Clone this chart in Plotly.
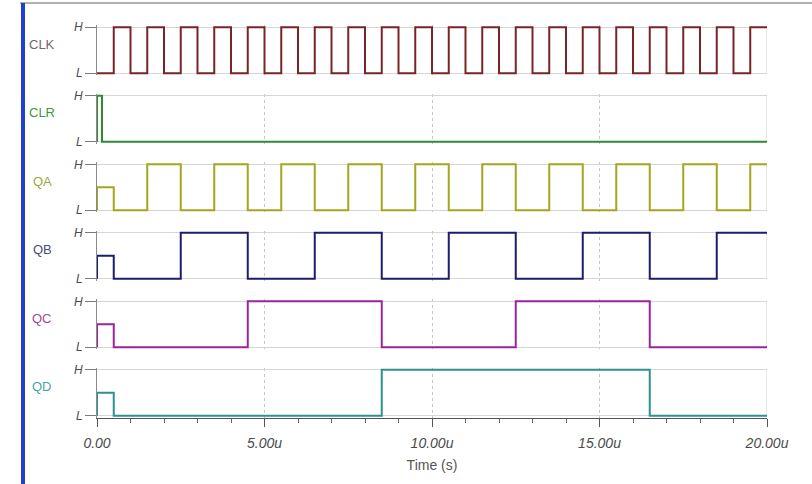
import plotly.graph_objects as go
from plotly.subplots import make_subplots

# ---------------- data ----------------
signal_names = ["CLK", "CLR", "QA", "QB", "QC", "QD"]

clk_t = [0, 0.5, 1, 1.5, 2, 2.5, 3, 3.5, 4, 4.5, 5, 5.5, 6, 6.5, 7, 7.5, 8, 8.5, 9, 9.5,
         10, 10.5, 11, 11.5, 12, 12.5, 13, 13.5, 14, 14.5, 15, 15.5, 16, 16.5, 17, 17.5,
         18, 18.5, 19, 19.5, 20]
clk_v = [0, 1, 0, 1, 0, 1, 0, 1, 0, 1, 0, 1, 0, 1, 0, 1, 0, 1, 0, 1,
         0, 1, 0, 1, 0, 1, 0, 1, 0, 1, 0, 1, 0, 1, 0, 1,
         0, 1, 0, 1, 1]

clr_t = [0, 0, 0.15, 20]
clr_v = [0, 1, 0, 0]

qa_t = [0, 0, 0.5, 1.5, 2.5, 3.5, 4.5, 5.5, 6.5, 7.5, 8.5, 9.5, 10.5, 11.5, 12.5, 13.5,
        14.5, 15.5, 16.5, 17.5, 18.5, 19.5, 20]
qa_v = [0, 0.5, 0, 1, 0, 1, 0, 1, 0, 1, 0, 1, 0, 1, 0, 1,
        0, 1, 0, 1, 0, 1, 1]

qb_t = [0, 0, 0.5, 2.5, 4.5, 6.5, 8.5, 10.5, 12.5, 14.5, 16.5, 18.5, 20]
qb_v = [0, 0.5, 0, 1, 0, 1, 0, 1, 0, 1, 0, 1, 1]

qc_t = [0, 0, 0.5, 4.5, 8.5, 12.5, 16.5, 20]
qc_v = [0, 0.5, 0, 1, 0, 1, 0, 0]

qd_t = [0, 0, 0.5, 8.5, 16.5, 20]
qd_v = [0, 0.5, 0, 1, 0, 0]

x_tick_vals = [0, 5, 10, 15, 20]
x_tick_text = ["0.00", "5.00u", "10.00u", "15.00u", "20.00u"]
y_tick_text = ["L", "H"]
x_title = "Time (s)"

# ---------------- styling ----------------
line_colors = ["#7a2428", "#2e8b32", "#a6a51e", "#1c1c72", "#9c229e", "#2a9390"]
label_colors = ["#6e6670", "#3b9a40", "#a3a33a", "#4a4a7e", "#9a4a9c", "#4aa3a0"]

series = [(clk_t, clk_v), (clr_t, clr_v), (qa_t, qa_v), (qb_t, qb_v), (qc_t, qc_v), (qd_t, qd_v)]

W, H = 812, 484
ML, MR, MT, MB = 97, 45, 25, 66
PW, PH = W - ML - MR, H - MT - MB

FONT = "Liberation Sans, Arial, sans-serif"

fig = make_subplots(rows=6, cols=1, shared_xaxes=True, vertical_spacing=0.046)

for i, (t, v) in enumerate(series):
    fig.add_trace(go.Scatter(x=t, y=v, mode="lines", line_shape="hv",
                             line=dict(color=line_colors[i], width=2),
                             showlegend=False, hoverinfo="skip"), row=i + 1, col=1)

tick_font = dict(family=FONT, size=14, color="#4a4a4a", style="italic")

for i in range(6):
    r = i + 1
    fig.update_yaxes(row=r, col=1, range=[-0.05, 1.05], tickvals=[0, 1], ticktext=y_tick_text,
                     showgrid=True, gridcolor="#d6d6d6", gridwidth=1, zeroline=False,
                     showline=True, linecolor="#8a8a8a", linewidth=1,
                     ticks="outside", ticklen=11, tickcolor="#7a7a7a", tickwidth=1,
                     tickfont=dict(family=FONT, size=12, color="#4a4a4a", style="italic"),
                     fixedrange=True)
    fig.update_xaxes(row=r, col=1, range=[0, 20], tickvals=x_tick_vals, ticktext=x_tick_text,
                     showgrid=True, gridcolor="#c4c4c4", griddash="dot", gridwidth=1,
                     zeroline=False, showticklabels=(r == 6), fixedrange=True)
    yref = "y" if r == 1 else f"y{r}"
    xref = "x" if r == 1 else f"x{r}"
    # right frame edge of each panel
    fig.add_shape(type="line", xref=xref, yref=yref, x0=20, x1=20, y0=0, y1=1,
                  line=dict(color="#d0d0d0", width=1), layer="below")
    # signal label
    fig.add_annotation(text=signal_names[i], xref="paper", yref=f"{yref} domain",
                       x=(42 - ML) / PW, y=0.62, xanchor="center", yanchor="middle",
                       showarrow=False,
                       font=dict(family=FONT, size=13, color=label_colors[i]))

fig.update_xaxes(row=6, col=1, showline=True, linecolor="#555555", linewidth=1,
                 ticks="outside", ticklen=8, tickcolor="#555555",
                 minor=dict(dtick=1, ticks="outside", ticklen=4, tickcolor="#666666", showgrid=False),
                 tickfont=tick_font, ticklabelstandoff=4,
                 title=dict(text=x_title, standoff=10,
                            font=dict(family=FONT, size=14, color="#555555")))

# window decorations: top border and blue left bar
def px_x(p):
    return (p - ML) / PW

def px_y(q):
    return (H - MB - q) / PH

fig.add_shape(type="line", xref="paper", yref="paper", x0=px_x(20), x1=px_x(812),
              y0=px_y(3), y1=px_y(3), line=dict(color="#b0b0b0", width=2))
fig.add_shape(type="rect", xref="paper", yref="paper", x0=px_x(21), x1=px_x(25),
              y0=px_y(3), y1=px_y(484), line=dict(width=0), fillcolor="#1f3fd8")

fig.update_layout(width=W, height=H, margin=dict(l=ML, r=MR, t=MT, b=MB),
                  plot_bgcolor="white", paper_bgcolor="white", showlegend=False)

fig.write_html("out.html", config={"displayModeBar": False, "staticPlot": True},
               post_script="document.body.style.margin='0';")
